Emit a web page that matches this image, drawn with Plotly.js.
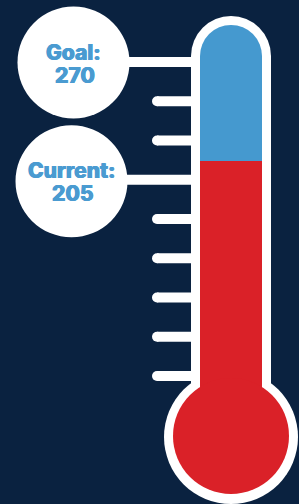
<!DOCTYPE html>
<html><head><meta charset="utf-8">
<script src="https://cdn.plot.ly/plotly-3.0.1.min.js"></script>
<style>html,body{margin:0;padding:0;background:#0b2340;overflow:hidden}#chart{width:299px;height:504px}</style>
</head><body><div id="chart"></div>
<script>
// ---- data ----
const labels = ["Goal:", "Current:"];
const values = [270, 205];
const category = ["Progress"];

const goal = values[0], current = values[1];

// ---- styles / geometry ----
const W = 299, H = 504;
const BG = '#0a2240', WHITE = '#ffffff', BLUE = '#4599cf', RED = '#da2128', TEXT = '#4a9bd1';
const FONT = 'Inter, Liberation Sans, Arial, sans-serif';
const tickCount = 9, tickTop = 62, tickStep = 39.25;
const tickYs = Array.from({length: tickCount}, (_, i) => tickTop + i * tickStep);
const labelTick = [0, 3];
const labelCircles = [{cx: 73.5, cy: 62.5, r: 56}, {cx: 71.5, cy: 181.3, r: 56}];

const traces = [
  {type: 'scatter', x: [0], y: [0], mode: 'markers', marker: {opacity: 0}, hoverinfo: 'skip', xaxis: 'x', yaxis: 'y'},
  {type: 'bar', x: category, y: [goal], width: [1], xaxis: 'x2', yaxis: 'y2',
   marker: {color: BLUE, cornerradius: 31, line: {width: 0}}, hoverinfo: 'skip'},
  {type: 'bar', x: category, y: [current], width: [1], xaxis: 'x2', yaxis: 'y2',
   marker: {color: RED, line: {width: 0}}, hoverinfo: 'skip'}
];

const shapes = [];
function S(o) { shapes.push(Object.assign({xref: 'x', yref: 'y', line: {width: 0}}, o)); }
// tube outline (below bars)
S({type: 'circle', x0: 191, x1: 271, y0: 16, y1: 96, fillcolor: WHITE, layer: 'below'});
S({type: 'rect', x0: 191, x1: 271, y0: 56, y1: 400, fillcolor: WHITE, layer: 'below'});
S({type: 'circle', x0: 164, x1: 298, y0: 370, y1: 504, fillcolor: WHITE, layer: 'below'});
// bulb fill
S({type: 'circle', x0: 173, x1: 289, y0: 378, y1: 494, fillcolor: RED, layer: 'above'});
// ticks
tickYs.forEach((y, i) => {
  if (labelTick.includes(i)) return;
  S({type: 'rect', x0: 157, x1: 195, y0: y - 5, y1: y + 5, fillcolor: WHITE, layer: 'above'});
  S({type: 'circle', x0: 152, x1: 162, y0: y - 5, y1: y + 5, fillcolor: WHITE, layer: 'above'});
});
// label connectors + circles
const annotations = [];
labelTick.forEach((ti, k) => {
  const y = tickYs[ti];
  const c = labelCircles[k];
  S({type: 'rect', x0: c.cx, x1: 195, y0: y - 5, y1: y + 5, fillcolor: WHITE, layer: 'above'});
  S({type: 'circle', x0: c.cx - c.r, x1: c.cx + c.r, y0: c.cy - c.r, y1: c.cy + c.r, fillcolor: WHITE, layer: 'above'});
  const f = {family: FONT, size: 21, color: TEXT, weight: 800,
             shadow: `0.45px 0 0 ${TEXT}, -0.45px 0 0 ${TEXT}`};
  annotations.push({xref: 'x', yref: 'y', x: c.cx, y: c.cy - 10.5, text: labels[k], showarrow: false,
    font: f, xanchor: 'center', yanchor: 'middle'});
  annotations.push({xref: 'x', yref: 'y', x: c.cx + 1, y: c.cy + 12.5, text: String(values[k]), showarrow: false,
    font: f, xanchor: 'center', yanchor: 'middle'});
});

const pxPerUnit = 62; // category width in px
const layout = {
  width: W, height: H,
  margin: {l: 0, r: 0, t: 0, b: 0, pad: 0},
  paper_bgcolor: BG, plot_bgcolor: 'rgba(0,0,0,0)',
  showlegend: false, barmode: 'overlay',
  xaxis: {range: [0, W], visible: false, fixedrange: true},
  yaxis: {range: [H, 0], visible: false, fixedrange: true},
  xaxis2: {type: 'category', anchor: 'y2', range: [-231 / pxPerUnit, (W - 231) / pxPerUnit], visible: false, fixedrange: true},
  yaxis2: {anchor: 'x2', domain: [68 / H, 1], range: [73.57, 281.95], visible: false, fixedrange: true},
  shapes: shapes,
  annotations: annotations
};

Plotly.newPlot('chart', traces, layout, {displayModeBar: false, staticPlot: true});
</script>
</body></html>
